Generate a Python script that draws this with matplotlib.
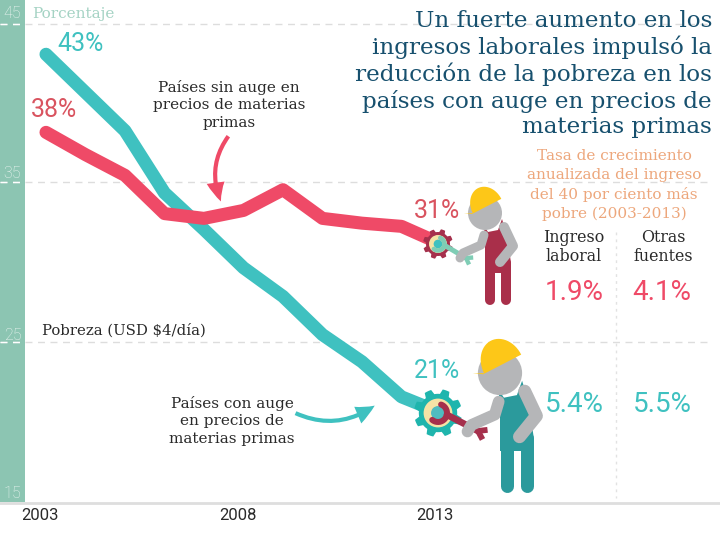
import matplotlib
matplotlib.use("Agg")
import matplotlib.pyplot as plt
import numpy as np
from matplotlib.patches import Circle, Polygon, FancyArrowPatch

years = list(range(2003, 2014))
con_auge = [43.1, 40.7, 38.3, 34.4, 32.1, 29.7, 27.9, 25.5, 23.8, 21.6, 20.6]
sin_auge = [38.2, 36.8, 35.5, 33.1, 32.8, 33.3, 34.6, 32.8, 32.5, 32.3, 31.2]
y_ticks = [15, 25, 35, 45]
x_labels = [2003, 2008, 2013]

TEAL = "#3fc1c0"
RED = "#ef4a67"
LABEL_RED = "#d9535f"
BAND = "#8cc5b2"
NAVY = "#17506e"
PEACH = "#eda77c"
TEXT = "#2a2a2a"
SERIF = "DejaVu Serif"
SANS = "Roboto"

fig = plt.figure(figsize=(7.2, 5.4), dpi=100)


def pixel_axes(z):
    a = fig.add_axes([0, 0, 1, 1], zorder=z)
    a.patch.set_alpha(0)
    a.set_xlim(0, 720)
    a.set_ylim(540, 0)
    a.axis("off")
    return a


# band and grid under the lines, texts and workers above them
px = pixel_axes(1)
top = pixel_axes(3)

# main chart: 2003 sits at x=46px, 2013 at x=441px, 15 at y=502px, 45 at y=24px
ax = fig.add_axes([46 / 720, (540 - 502) / 540, 395 / 720, 478 / 540], zorder=2)
ax.patch.set_alpha(0)
ax.set_xlim(2003, 2013)
ax.set_ylim(15, 45)
ax.axis("off")

px.fill_between([0, 25], 0, 502, color=BAND, lw=0, zorder=1)
for y in [24, 182, 342]:
    px.plot([0, 712], [y, y], color="#dddddd", lw=1, dashes=(5, 4), zorder=2)
    px.plot([0, 25], [y, y], color="white", lw=1, dashes=(5, 4), zorder=2)
px.plot([0, 720], [502.5, 502.5], color="#dedede", lw=2, zorder=2)
px.plot([615.5, 615.5], [232, 498], color="#e2e2e2", lw=1, dashes=(2, 3), zorder=2)

ax.plot(years, con_auge, color=TEAL, lw=9.4, solid_capstyle="round", solid_joinstyle="round", clip_on=False)
ax.plot(years, sin_auge, color=RED, lw=9.4, solid_capstyle="round", solid_joinstyle="round", clip_on=False)

for val, y in zip(y_ticks, [494, 335, 173, 14]):
    top.text(12.5, y, str(val), color="white", alpha=0.85, fontsize=11.5, family=SANS,
             ha="center", va="center", fontweight="light")
top.text(32, 14, "Porcentaje", color="#a5d3c4", fontsize=11, family=SERIF, va="center")
top.text(42, 330, "Pobreza (USD $4/día)", color=TEXT, fontsize=10.7, family=SERIF, va="center")

for label, x in zip(x_labels, [40, 238, 435]):
    top.text(x, 516, str(label), color=TEXT, fontsize=12, family=SANS, ha="center", va="center")

pct = dict(fontsize=18, family=SANS, ha="center", va="center")
top.text(81, 44, "43%", color=TEAL, **pct)
top.text(54, 110, "38%", color=LABEL_RED, **pct)
top.text(437, 211, "31%", color=LABEL_RED, **pct)
top.text(437, 371, "21%", color=TEAL, **pct)

top.text(229, 105, "Países sin auge en\nprecios de materias\nprimas", color=TEXT, fontsize=11,
         family=SERIF, ha="center", va="center", linespacing=1.3)
top.text(232, 421, "Países con auge\nen precios de\nmaterias primas", color=TEXT, fontsize=11,
         family=SERIF, ha="center", va="center", linespacing=1.3)

top.text(712, 74, "Un fuerte aumento en los\ningresos laborales impulsó la\nreducción de la pobreza en los\n"
         "países con auge en precios de\nmaterias primas", color=NAVY, fontsize=16.6, family=SERIF,
         ha="right", va="center", linespacing=1.2)
top.text(614, 185, "Tasa de crecimiento\nanualizada del ingreso\ndel 40 por ciento más\npobre (2003-2013)",
         color=PEACH, fontsize=11, family=SERIF, ha="center", va="center", linespacing=1.42)
top.text(574, 247, "Ingreso\nlaboral", color=TEXT, fontsize=11.4, family=SERIF, ha="center", va="center")
top.text(663, 247, "Otras\nfuentes", color=TEXT, fontsize=11.4, family=SERIF, ha="center", va="center")

table = dict(fontsize=20, family=SANS, ha="center", va="center")
top.text(574, 292, "1.9%", color=RED, **table)
top.text(662, 292, "4.1%", color=RED, **table)
top.text(574, 404, "5.4%", color=TEAL, **table)
top.text(662, 404, "5.5%", color=TEAL, **table)

top.add_patch(FancyArrowPatch((230, 134), (222, 204), connectionstyle="arc3,rad=0.3", mutation_scale=1,
                              arrowstyle="simple,head_width=13,head_length=14,tail_width=3",
                              color=RED, lw=0, zorder=4))
top.add_patch(FancyArrowPatch((293, 412), (377, 404), connectionstyle="arc3,rad=0.3", mutation_scale=1,
                              arrowstyle="simple,head_width=13,head_length=14,tail_width=3",
                              color=TEAL, lw=0, zorder=4))


def gear(cx, cy, r, body, ring, hub):
    angles = np.linspace(0, 2 * np.pi, 8 * 8, endpoint=False) + 0.2
    radius = np.where(np.arange(angles.size) % 8 < 4, r * 1.0, r * 0.8)
    points = np.column_stack([cx + radius * np.cos(angles), cy + radius * np.sin(angles)])
    top.add_patch(Polygon(points, closed=True, color=body, lw=0, zorder=5))
    top.add_patch(Circle((cx, cy), r * 0.6, color=ring, lw=0, zorder=6))
    top.add_patch(Circle((cx, cy), r * 0.29, color=hub, lw=0, zorder=7))


def wrench(cx, cy, hook, x1, y1, width, color):
    # hook curls around the gear hub, handle runs out to the open jaws
    t = np.radians(np.linspace(-70, 130, 20))
    top.plot(cx + hook * np.cos(t), cy + hook * np.sin(t), color=color, lw=width * 0.72,
             solid_capstyle="round", zorder=8)
    x0, y0 = cx + hook, cy + hook * 0.2
    top.plot([x0, x1], [y0, y1], color=color, lw=width * 0.8, solid_capstyle="round", zorder=8)
    angle = np.arctan2(y1 - y0, x1 - x0)
    for off in (-0.6, 0.6):
        jaw_x = x1 + width * 1.6 * np.cos(angle + off)
        jaw_y = y1 + width * 1.6 * np.sin(angle + off)
        top.plot([x1, jaw_x], [y1, jaw_y], color=color, lw=width * 0.7, solid_capstyle="butt", zorder=8)


def worker(hx, hy, s, suit):
    # offsets measured from the head centre, in pixels of the small worker
    def limb(xs, ys, width, color, z):
        top.plot(hx + s * np.array(xs), hy + s * np.array(ys), color=color, lw=width * s * 0.72,
                 solid_capstyle="round", solid_joinstyle="round", zorder=z)

    def shape(points, color, z):
        points = np.asarray(points)
        top.add_patch(Polygon(np.column_stack([hx + s * points[:, 0], hy + s * points[:, 1]]),
                              closed=True, color=color, lw=0, zorder=z))

    limb([5, 5], [50, 87], 10, suit, 9)
    limb([21, 21], [50, 87], 10, suit, 9)
    shape([(-1, 13), (3, 19), (13, 17), (17, 6), (22, 22), (26, 50), (26, 60), (0, 60), (0, 30)], suit, 9)
    limb([-1, -4, -22, -25], [22, 32, 40, 45], 9, "#b5b6b8", 10)
    limb([19, 28, 15], [14, 33, 49], 10, "#b5b6b8", 10)
    top.add_patch(Circle((hx, hy), 17 * s, color="#b5b6b8", lw=0, zorder=10))
    # hard hat: half ellipse on a chord rising to the right, with a short brim
    t = np.linspace(0, np.pi, 30)
    dome = np.column_stack([2 + 16 * np.cos(t) * 0.894 - 20 * np.sin(t) * 0.447,
                            -7 - 16 * np.cos(t) * 0.447 - 20 * np.sin(t) * 0.894])
    shape(np.vstack([dome, [(-21, 0), (-13, 1)]]), "#fdc718", 11)


worker(485, 213, 1.0, "#a92f4a")
gear(438, 244, 15, "#a5304c", "#f5e3a6", TEAL)
wrench(438, 244, 6.5, 466, 258, 4.5, "#7fcdb5")

worker(500, 373, 1.3, "#2b9a9c")
gear(438, 413, 24, "#1fb5ad", "#f5e3a6", "#4fbcc0")
wrench(438, 413, 9, 478, 431, 6, "#a5304c")

fig.savefig("out.png", dpi=100)
